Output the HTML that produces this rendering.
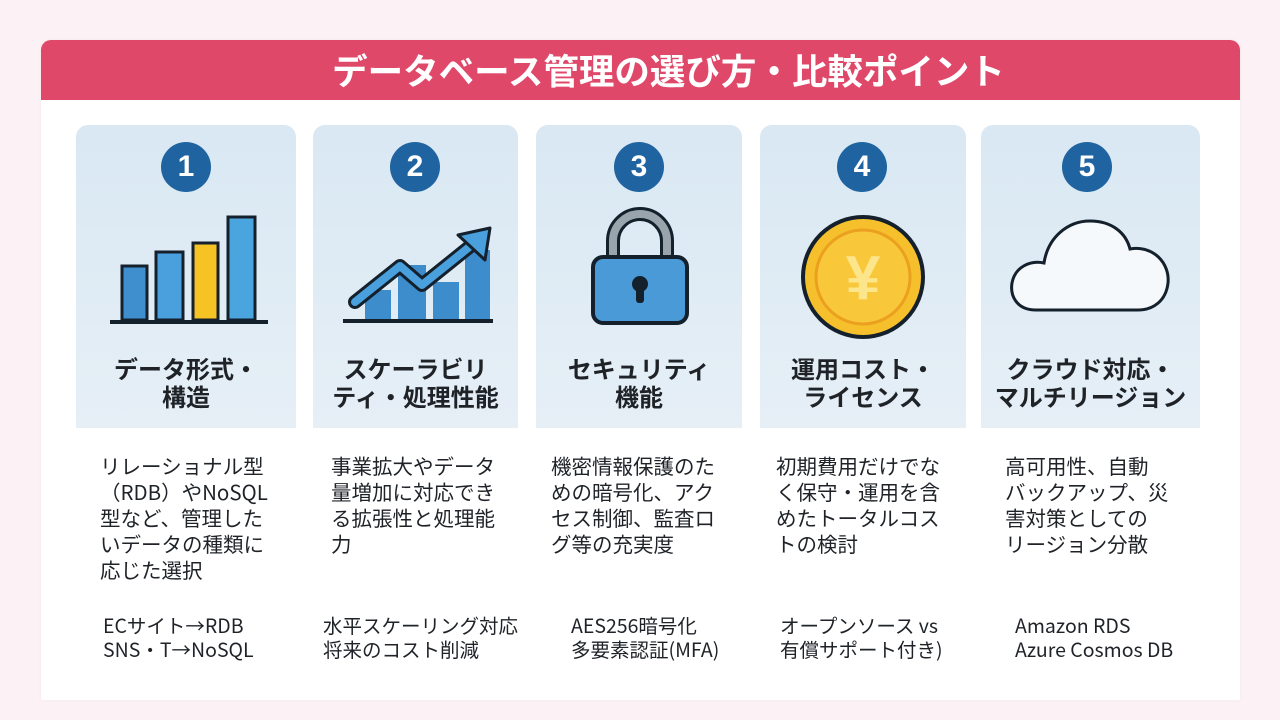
<!DOCTYPE html>
<html><head><meta charset="utf-8"><style>
*{margin:0;padding:0;box-sizing:border-box}
body{width:1280px;height:720px;background:#fcf1f4;position:relative;overflow:hidden;font-family:"Noto Sans CJK JP","Liberation Sans",sans-serif;color:#1f2328}
.card{position:absolute;left:41px;top:40px;width:1199px;height:660px;background:#fff;border-radius:10px 10px 0 0;box-shadow:0 0 4px rgba(0,0,0,.04)}
.hdr{position:absolute;left:41px;top:40px;width:1199px;height:60px;background:#e0486a;border-radius:10px 10px 0 0;color:#fff;font-weight:bold;font-size:35.5px;text-align:center;line-height:60px;padding-left:56px}
.p{position:absolute;top:125px;height:303px;background:linear-gradient(#d9e8f3,#e6eff6);border-radius:12px 12px 0 0}
.n{position:absolute;top:142px;width:50px;height:50px;border-radius:50%;background:#1f64a0;color:#fff;font-weight:bold;font-size:30px;text-align:center;line-height:50px;font-family:"Liberation Sans",sans-serif}
.t{position:absolute;top:354px;font-weight:bold;font-size:24px;line-height:28px;text-align:center;white-space:nowrap}
.d{position:absolute;top:452px;font-size:20.5px;line-height:26px;white-space:nowrap}
.b{position:absolute;top:613px;font-size:19.5px;line-height:24px;white-space:nowrap}
svg{position:absolute}
</style></head><body>
<div class="card"></div>
<div class="hdr">データベース管理の選び方・比較ポイント</div>

<div class="p" style="left:76px;width:220px"></div>
<div class="p" style="left:313px;width:205px"></div>
<div class="p" style="left:536px;width:206px"></div>
<div class="p" style="left:760px;width:206px"></div>
<div class="p" style="left:981px;width:219px"></div>

<div class="n" style="left:161px">1</div>
<div class="n" style="left:390px">2</div>
<div class="n" style="left:614px">3</div>
<div class="n" style="left:837px">4</div>
<div class="n" style="left:1062px">5</div>

<svg style="left:100px;top:210px" width="180" height="115" viewBox="0 0 180 115">
<g stroke="#14202c" stroke-width="3">
<rect x="22" y="56" width="25" height="54" fill="#3f8fcf"/>
<rect x="56" y="42" width="27" height="68" fill="#4aa0dd"/>
<rect x="93" y="33" width="25" height="77" fill="#f6c324"/>
<rect x="128" y="7" width="27" height="103" fill="#4aa5de"/>
</g>
<line x1="10" y1="112" x2="168" y2="112" stroke="#14202c" stroke-width="4"/>
</svg>

<svg style="left:330px;top:210px" width="180" height="115" viewBox="0 0 180 115">
<rect x="35" y="80" width="26" height="30" fill="#3d8ccc"/>
<rect x="68" y="55" width="28" height="55" fill="#3d8ccc"/>
<rect x="103" y="72" width="26" height="38" fill="#3d8ccc"/>
<rect x="135" y="40" width="25" height="70" fill="#3d8ccc"/>
<polyline points="25,92 70,56 92,75 148,30" fill="none" stroke="#14202c" stroke-width="14" stroke-linejoin="round" stroke-linecap="round"/>
<polyline points="25,92 70,56 92,75 148,30" fill="none" stroke="#4aa0dd" stroke-width="8" stroke-linejoin="round" stroke-linecap="round"/>
<polygon points="128,25 160,18 155,50" fill="#4aa0dd" stroke="#14202c" stroke-width="3" stroke-linejoin="round"/>
<line x1="13" y1="111" x2="163" y2="111" stroke="#14202c" stroke-width="4"/>
</svg>

<svg style="left:585px;top:205px" width="110" height="122" viewBox="0 0 110 122">
<path d="M28 55 V36 a27 27 0 0 1 54 0 V55" fill="none" stroke="#14202c" stroke-width="14"/>
<path d="M28 55 V36 a27 27 0 0 1 54 0 V55" fill="none" stroke="#9aa4ad" stroke-width="8"/>
<rect x="8" y="52" width="94" height="66" rx="10" fill="#4b9ad8" stroke="#14202c" stroke-width="4"/>
<circle cx="55" cy="79" r="8" fill="#14202c"/>
<rect x="51" y="80" width="8" height="18" rx="3" fill="#14202c"/>
</svg>

<svg style="left:801px;top:215px" width="125" height="125" viewBox="0 0 125 125">
<circle cx="62" cy="62" r="60" fill="#f6c02c" stroke="#14202c" stroke-width="4"/>
<circle cx="62" cy="62" r="47" fill="#f8c83a" stroke="#eba020" stroke-width="3"/>
<text x="62" y="84" font-family="Liberation Sans,sans-serif" font-weight="bold" font-size="62" fill="#fce58a" text-anchor="middle">¥</text>
</svg>

<svg style="left:1008px;top:215px" width="165" height="100" viewBox="0 0 165 100">
<path d="M28 95 C8 95 2 80 4 68 C7 52 22 45 36 48 C40 22 60 6 82 6 C104 6 118 18 122 34 C145 30 162 48 160 68 C158 86 145 95 130 95 Z" fill="#f6f9fb" stroke="#14202c" stroke-width="3"/>
</svg>

<div class="t" style="left:76px;width:220px">データ形式・<br>構造</div>
<div class="t" style="left:313px;width:205px">スケーラビリ<br>ティ・処理性能</div>
<div class="t" style="left:536px;width:206px">セキュリティ<br>機能</div>
<div class="t" style="left:760px;width:206px">運用コスト・<br>ライセンス</div>
<div class="t" style="left:981px;width:219px">クラウド対応・<br>マルチリージョン</div>

<div class="d" style="left:100px">リレーショナル型<br>（RDB）やNoSQL<br>型など、管理した<br>いデータの種類に<br>応じた選択</div>
<div class="d" style="left:331px">事業拡大やデータ<br>量増加に対応でき<br>る拡張性と処理能<br>力</div>
<div class="d" style="left:551px">機密情報保護のた<br>めの暗号化、アク<br>セス制御、監査ロ<br>グ等の充実度</div>
<div class="d" style="left:776px">初期費用だけでな<br>く保守・運用を含<br>めたトータルコス<br>トの検討</div>
<div class="d" style="left:1005px">高可用性、自動<br>バックアップ、災<br>害対策としての<br>リージョン分散</div>

<div class="b" style="left:103px">ECサイト→RDB<br>SNS・T→NoSQL</div>
<div class="b" style="left:323px">水平スケーリング対応<br>将来のコスト削減</div>
<div class="b" style="left:571px">AES256暗号化<br>多要素認証(MFA)</div>
<div class="b" style="left:780px">オープンソース vs<br>有償サポート付き)</div>
<div class="b" style="left:1015px">Amazon RDS<br>Azure Cosmos DB</div>
</body></html>
